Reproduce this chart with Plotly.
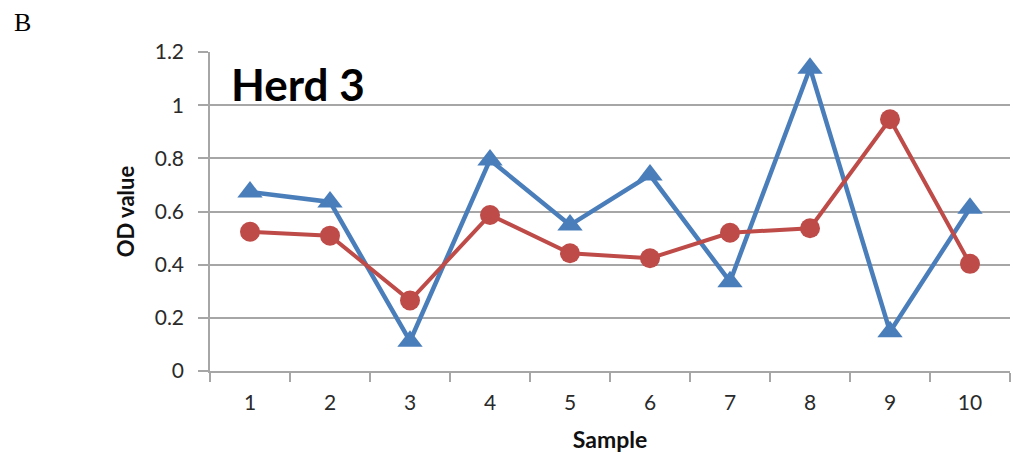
import plotly.graph_objects as go

samples = ["1", "2", "3", "4", "5", "6", "7", "8", "9", "10"]
od_blue = [0.673, 0.636, 0.112, 0.794, 0.549, 0.737, 0.336, 1.139, 0.148, 0.612]
od_red = [0.524, 0.509, 0.265, 0.587, 0.443, 0.424, 0.520, 0.537, 0.947, 0.403]
y_ticks = [0, 0.2, 0.4, 0.6, 0.8, 1, 1.2]
y_tick_text = ["0", "0.2", "0.4", "0.6", "0.8", "1", "1.2"]

BLUE = "#4A7EBB"
RED = "#BE4B48"
GRID = "#A6A6A6"
FONT = "Lato, 'Open Sans', sans-serif"

fig = go.Figure()
fig.add_trace(go.Scatter(
    x=samples, y=od_blue, mode="lines+markers",
    line=dict(color=BLUE, width=4.5),
    marker=dict(symbol="triangle-up", size=22, color=BLUE),
    showlegend=False,
))
fig.add_trace(go.Scatter(
    x=samples, y=od_red, mode="lines+markers",
    line=dict(color=RED, width=4),
    marker=dict(symbol="circle", size=20, color=RED),
    showlegend=False,
))

fig.update_layout(
    width=1013, height=458,
    margin=dict(l=210, r=3, t=52, b=87),
    paper_bgcolor="white", plot_bgcolor="white",
    font=dict(family=FONT, color="#222222"),
    xaxis=dict(
        type="category", categoryorder="array", categoryarray=samples,
        tickson="boundaries", ticks="outside", ticklen=9, tickcolor=GRID, tickwidth=1.5,
        showline=True, linecolor=GRID, linewidth=1.5, showgrid=False, zeroline=False,
        tickfont=dict(size=21, color="#2a2a2a"), ticklabelstandoff=12,
        title=dict(text="<b>Sample</b>", font=dict(size=23, color="#111111"), standoff=19),
        range=[-0.5, 9.5],
    ),
    yaxis=dict(
        range=[0, 1.2], tickvals=y_ticks, ticktext=y_tick_text,
        ticks="outside", ticklen=10, tickcolor=GRID, tickwidth=1.5,
        showline=True, linecolor=GRID, linewidth=1.5,
        showgrid=True, gridcolor=GRID, gridwidth=1.5, zeroline=False,
        tickfont=dict(size=21, color="#2a2a2a"), ticklabelstandoff=10,
        title=dict(text="<b>OD value</b>", font=dict(size=22, color="#111111"), standoff=14),
    ),
    annotations=[
        dict(text="<b>Herd 3</b>", xref="paper", yref="paper", x=0.024, y=0.9,
             xanchor="left", yanchor="middle", showarrow=False,
             font=dict(size=44, color="#000000", family=FONT)),
        dict(text="B", xref="paper", yref="paper", x=-0.234, y=1.094,
             xanchor="center", yanchor="middle", showarrow=False,
             font=dict(size=26, color="#000000", family="'Liberation Serif', serif")),
    ],
)

fig.write_html("out.html")
